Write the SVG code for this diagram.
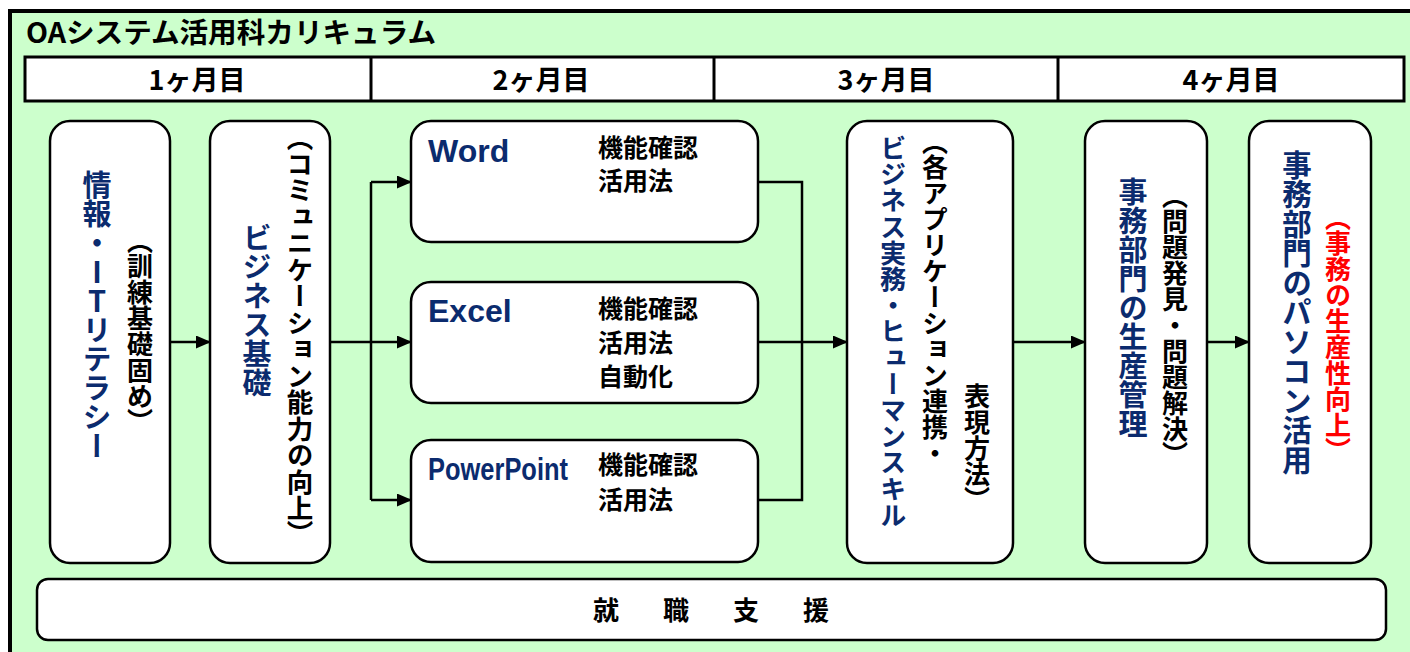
<svg xmlns="http://www.w3.org/2000/svg" width="1410" height="652" viewBox="0 0 1410 652">
<style>
text{font-family:"Noto Sans CJK JP","Liberation Sans",sans-serif;font-weight:bold;fill:#000}
.v{writing-mode:vertical-rl}
.p{font-feature-settings:"vpal" 1}
.u{text-orientation:upright}
.blue{fill:#0B2B6E}
.red{fill:#FF0000}
.box{fill:#fff;stroke:#000;stroke-width:2.5}
.hdr{font-size:27px;text-anchor:middle}
.lbl{font-size:25px}
.app{font-family:"Liberation Sans",Arial,sans-serif;font-size:32px;fill:#0B2B6E}
.ln{fill:none;stroke:#000;stroke-width:2.5}
</style>
<defs>
<marker id="ah" markerUnits="userSpaceOnUse" markerWidth="15" markerHeight="13" refX="14" refY="6.5" orient="auto">
<path d="M0,0 L15,6.5 L0,13 z" fill="#000"/>
</marker>
</defs>
<rect x="10" y="11" width="1420" height="660" fill="#CCFFCC" stroke="#000" stroke-width="4"/>
<text x="26" y="43" font-size="28" textLength="410" lengthAdjust="spacingAndGlyphs">OAシステム活用科カリキュラム</text>
<g id="header">
<rect x="25" y="57" width="1379" height="44" fill="#fff" stroke="#000" stroke-width="3"/>
<line x1="371" y1="57" x2="371" y2="101" stroke="#000" stroke-width="3"/>
<line x1="714" y1="57" x2="714" y2="101" stroke="#000" stroke-width="3"/>
<line x1="1058" y1="57" x2="1058" y2="101" stroke="#000" stroke-width="3"/>
<text class="hdr" x="197" y="90">1ヶ月目</text>
<text class="hdr" x="541" y="90">2ヶ月目</text>
<text class="hdr" x="886" y="90">3ヶ月目</text>
<text class="hdr" x="1231" y="90">4ヶ月目</text>
</g>
<g id="connectors">
<path class="ln" d="M170,342 H210" marker-end="url(#ah)"/>
<path class="ln" d="M330,342 H411" marker-end="url(#ah)"/>
<path class="ln" d="M371,182 V500"/>
<path class="ln" d="M371,182 H411" marker-end="url(#ah)"/>
<path class="ln" d="M371,500 H411" marker-end="url(#ah)"/>
<path class="ln" d="M758,182 H802 V500 H758"/>
<path class="ln" d="M758,342 H847" marker-end="url(#ah)"/>
<path class="ln" d="M1013,342 H1085" marker-end="url(#ah)"/>
<path class="ln" d="M1207,342 H1249" marker-end="url(#ah)"/>
</g>
<g id="n1">
<rect class="box" x="50" y="121" width="120" height="442" rx="20"/>
<text class="v blue" x="97" y="170" font-size="29">情報・<tspan class="u">IT</tspan>リテラシー</text>
<text class="v" x="140" y="240" font-size="26"><tspan class="p">（</tspan>訓練基礎固め<tspan class="p">）</tspan></text>
</g>
<g id="n2">
<rect class="box" x="210" y="121" width="120" height="442" rx="20"/>
<text class="v blue" x="257" y="223" font-size="29">ビジネス基礎</text>
<text class="v" x="300" y="137" font-size="26.5"><tspan class="p">（</tspan>コミュニケーション能力の向上<tspan class="p">）</tspan></text>
</g>
<g id="n3">
<rect class="box" x="411" y="121" width="347" height="121" rx="20"/>
<text class="app" x="428" y="162">Word</text>
<text class="lbl" x="598" y="157">機能確認</text>
<text class="lbl" x="598" y="190">活用法</text>
</g>
<g id="n4">
<rect class="box" x="411" y="282" width="347" height="121" rx="20"/>
<text class="app" x="428" y="322">Excel</text>
<text class="lbl" x="598" y="318">機能確認</text>
<text class="lbl" x="598" y="352">活用法</text>
<text class="lbl" x="598" y="386">自動化</text>
</g>
<g id="n5">
<rect class="box" x="411" y="440" width="347" height="122" rx="20"/>
<text class="app" x="428" y="480" font-weight="normal" textLength="140" lengthAdjust="spacingAndGlyphs">PowerPoint</text>
<text class="lbl" x="598" y="474">機能確認</text>
<text class="lbl" x="598" y="509">活用法</text>
</g>
<g id="n6">
<rect class="box" x="847" y="121" width="166" height="442" rx="20"/>
<text class="v blue" x="893" y="135" font-size="26.2">ビジネス実務・ヒューマンスキル</text>
<text class="v" x="935" y="141" font-size="26"><tspan class="p">（</tspan>各アプリケーション連携・</text>
<text class="v" x="977" y="383" font-size="26">表現方法<tspan class="p">）</tspan></text>
</g>
<g id="n7">
<rect class="box" x="1085" y="121" width="122" height="442" rx="20"/>
<text class="v blue" x="1133" y="177" font-size="29">事務部門の生産管理</text>
<text class="v" x="1175" y="195" font-size="26"><tspan class="p">（</tspan>問題発見・問題解決<tspan class="p">）</tspan></text>
</g>
<g id="n8">
<rect class="box" x="1249" y="121" width="122" height="442" rx="20"/>
<text class="v blue" x="1297" y="150" font-size="29.5">事務部門のパソコン活用</text>
<text class="v red" x="1338" y="217" font-size="26"><tspan class="p">（</tspan>事務の生産性向上<tspan class="p">）</tspan></text>
</g>
<g id="n9">
<rect class="box" x="37" y="579" width="1349" height="61" rx="11"/>
<text x="733" y="620" font-size="26" text-anchor="middle" letter-spacing="44">就職支援</text>
</g>
</svg>
